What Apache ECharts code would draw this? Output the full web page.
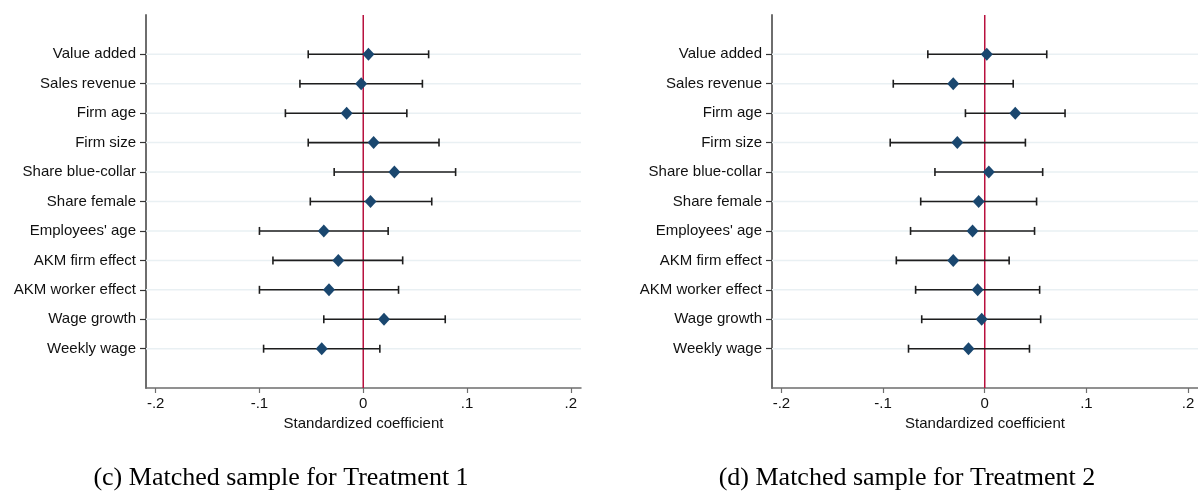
<!DOCTYPE html>
<html><head><meta charset="utf-8">
<script src="https://cdn.jsdelivr.net/npm/echarts@6/dist/echarts.min.js"></script>
<style>html,body{margin:0;padding:0;background:#fff;}#c{width:1198px;height:492px;}</style>
</head><body><div id="c"></div>
<script>
const categories = ['Value added','Sales revenue','Firm age','Firm size','Share blue-collar','Share female',"Employees' age",'AKM firm effect','AKM worker effect','Wage growth','Weekly wage'];
// Panel (c): Treatment 1
const t1Coef = [0.005, -0.002, -0.016, 0.010, 0.030, 0.007, -0.038, -0.024, -0.033, 0.020, -0.040];
const t1Lo   = [-0.053, -0.061, -0.075, -0.053, -0.028, -0.051, -0.100, -0.087, -0.100, -0.038, -0.096];
const t1Hi   = [0.063, 0.057, 0.042, 0.073, 0.089, 0.066, 0.024, 0.038, 0.034, 0.079, 0.016];
// Panel (d): Treatment 2
const t2Coef = [0.002, -0.031, 0.030, -0.027, 0.004, -0.006, -0.012, -0.031, -0.007, -0.003, -0.016];
const t2Lo   = [-0.056, -0.090, -0.019, -0.093, -0.049, -0.063, -0.073, -0.087, -0.068, -0.062, -0.075];
const t2Hi   = [0.061, 0.028, 0.079, 0.040, 0.057, 0.051, 0.049, 0.024, 0.054, 0.055, 0.044];
const xTickValues = [-0.2, -0.1, 0, 0.1, 0.2];
const xTickLabels = ['-.2', '-.1', '0', '.1', '.2'];
const xTitle = 'Standardized coefficient';
const captions = ['(c) Matched sample for Treatment 1', '(d) Matched sample for Treatment 2'];

const rowPos = categories.map((_, i) => i + 1);
const X_MIN = -0.2093, X_MAX = 0.2098, Y_MIN = -0.335, Y_MAX = 12.335;
const SANS = '"Liberation Sans", Arial, Helvetica, sans-serif';
const SERIF = '"Liberation Serif", "Times New Roman", serif';
const AXIS_COLOR = '#6e6e6e';

const panels = [
  {coef: t1Coef, lo: t1Lo, hi: t1Hi, left: 146},
  {coef: t2Coef, lo: t2Lo, hi: t2Hi, left: 772}
];

const grids = [], xAxes = [], yAxes = [], series = [];
panels.forEach((p, k) => {
  grids.push({left: p.left, top: 15, width: 435, height: 373, containLabel: false});
  xAxes.push({
    type: 'value', gridIndex: k, min: X_MIN, max: X_MAX,
    axisLine: {show: true, onZero: false, lineStyle: {color: AXIS_COLOR, width: 1.5}},
    axisTick: {show: true, customValues: xTickValues, length: 5, lineStyle: {color: AXIS_COLOR, width: 1.2}},
    axisLabel: {show: true, customValues: xTickValues, margin: 8, color: '#111', fontFamily: SANS, fontSize: 15,
      formatter: v => { const i = xTickValues.findIndex(t => Math.abs(t - v) < 1e-9); return i >= 0 ? xTickLabels[i] : ''; }},
    splitLine: {show: false},
    name: xTitle, nameLocation: 'middle', nameGap: 27,
    nameTextStyle: {color: '#111', fontFamily: SANS, fontSize: 15}
  });
  yAxes.push({
    type: 'value', gridIndex: k, min: Y_MIN, max: Y_MAX, inverse: true,
    axisLine: {show: true, onZero: false, lineStyle: {color: AXIS_COLOR, width: 2}},
    axisTick: {show: true, customValues: rowPos, length: 6, lineStyle: {color: '#333', width: 1.2}},
    axisLabel: {show: true, customValues: rowPos, margin: 10, color: '#111', fontFamily: SANS, fontSize: 15,
      formatter: v => categories[Math.round(v) - 1] || ''},
    splitLine: {show: false}
  });
  // grid lines
  series.push({
    type: 'custom', xAxisIndex: k, yAxisIndex: k, z: 1, silent: true,
    data: rowPos.map(y => [0, y]), encode: {x: 0, y: 1},
    renderItem: (params, api) => {
      const cs = params.coordSys; const pt = api.coord([0, api.value(1)]);
      return {type: 'line', shape: {x1: cs.x, y1: pt[1], x2: cs.x + cs.width, y2: pt[1]},
        style: {stroke: '#e9f0f3', lineWidth: 1.5}};
    }
  });
  // reference line at zero
  series.push({
    type: 'custom', xAxisIndex: k, yAxisIndex: k, z: 2, silent: true,
    data: [[0, 1]], encode: {x: 0, y: 1},
    renderItem: (params, api) => {
      const cs = params.coordSys; const pt = api.coord([api.value(0), api.value(1)]);
      return {type: 'line', shape: {x1: pt[0], y1: cs.y, x2: pt[0], y2: cs.y + cs.height},
        style: {stroke: '#b8103d', lineWidth: 1.5}};
    }
  });
  // confidence intervals
  series.push({
    type: 'custom', xAxisIndex: k, yAxisIndex: k, z: 3, silent: true,
    data: rowPos.map((y, i) => [y, p.lo[i], p.hi[i]]), encode: {x: [1, 2], y: 0},
    renderItem: (params, api) => {
      const y = api.value(0);
      const a = api.coord([api.value(1), y]); const b = api.coord([api.value(2), y]);
      const st = {stroke: '#1e1e1e', lineWidth: 1.6};
      const h = 4;
      return {type: 'group', children: [
        {type: 'line', shape: {x1: a[0], y1: a[1], x2: b[0], y2: b[1]}, style: st},
        {type: 'line', shape: {x1: a[0], y1: a[1] - h, x2: a[0], y2: a[1] + h}, style: st},
        {type: 'line', shape: {x1: b[0], y1: b[1] - h, x2: b[0], y2: b[1] + h}, style: st}
      ]};
    }
  });
  // point estimates
  series.push({
    type: 'scatter', xAxisIndex: k, yAxisIndex: k, z: 4, silent: true,
    symbol: 'diamond', symbolSize: [12, 13],
    itemStyle: {color: '#1a476f', opacity: 1},
    data: rowPos.map((y, i) => [p.coef[i], y])
  });
});

const chart = echarts.init(document.getElementById('c'), null, {renderer: 'canvas'});
chart.setOption({
  animation: false,
  backgroundColor: '#fff',
  grid: grids, xAxis: xAxes, yAxis: yAxes, series: series,
  graphic: [
    {type: 'text', x: 281, y: 478, style: {text: captions[0], font: '26px ' + SERIF, fill: '#000', textAlign: 'center', textVerticalAlign: 'middle'}},
    {type: 'text', x: 907, y: 478, style: {text: captions[1], font: '26px ' + SERIF, fill: '#000', textAlign: 'center', textVerticalAlign: 'middle'}}
  ]
});
</script></body></html>
